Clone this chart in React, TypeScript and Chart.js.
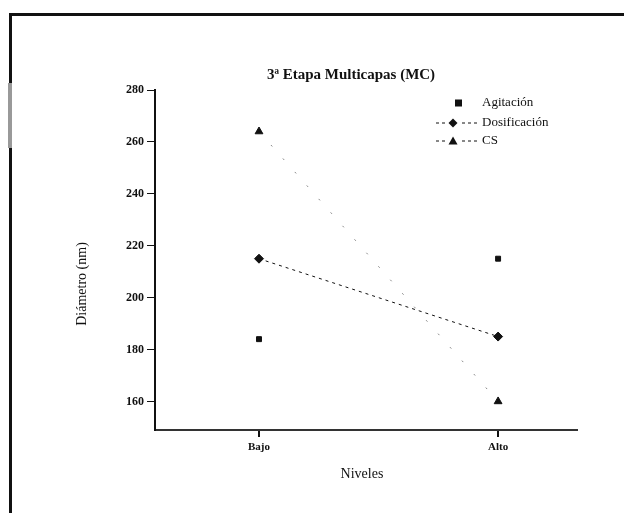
import React, { useEffect, useRef } from "react";
import { Chart, registerables } from "chart.js";

Chart.register(...registerables);

const categories = ["Bajo", "Alto"];
const agitacion = [184, 215];
const dosificacion = [215, 185];
const cs = [264, 160];
const yTickValues = [160, 180, 200, 220, 240, 260, 280];
const titleText = "3ª Etapa Multicapas (MC)";
const xTitle = "Niveles";
const yTitle = "Diámetro (nm)";
const legendLabels = ["Agitación", "Dosificación", "CS"];

const SERIF = "'Liberation Serif', 'Times New Roman', serif";

const toPoints = (arr: number[]) => arr.map((v, i) => ({ x: i, y: v }));

const decorPlugin = {
  id: "decor",
  afterDraw(chart: any) {
    const { ctx, chartArea } = chart;
    const L = chartArea.left;
    const T = chartArea.top;
    ctx.save();
    ctx.fillStyle = "#111";
    ctx.strokeStyle = "#111";
    // title
    ctx.font = `bold 15px ${SERIF}`;
    ctx.textAlign = "center";
    ctx.textBaseline = "middle";
    ctx.fillText(titleText, L + 196, T - 15);
    // x title
    ctx.font = `14px ${SERIF}`;
    ctx.fillText(xTitle, L + 207, chartArea.bottom + 44);
    // y title
    ctx.save();
    ctx.translate(L - 73, T + 194);
    ctx.rotate(-Math.PI / 2);
    ctx.fillText(yTitle, 0, 0);
    ctx.restore();
    // legend
    ctx.font = `13px ${SERIF}`;
    ctx.textAlign = "left";
    const tx = L + 327;
    const rows = [T + 13, T + 33, T + 51];
    // row 1: square
    ctx.fillRect(L + 300, rows[0] - 3.5, 7, 7);
    ctx.fillText(legendLabels[0], tx, rows[0]);
    // row 2: dashes + diamond
    ctx.lineWidth = 1;
    ctx.setLineDash([3, 3]);
    ctx.beginPath();
    ctx.moveTo(L + 281, rows[1]);
    ctx.lineTo(L + 290, rows[1]);
    ctx.moveTo(L + 307, rows[1]);
    ctx.lineTo(L + 323, rows[1]);
    ctx.stroke();
    ctx.beginPath();
    const dx = L + 298;
    ctx.moveTo(dx, rows[1] - 4.5);
    ctx.lineTo(dx + 4.5, rows[1]);
    ctx.lineTo(dx, rows[1] + 4.5);
    ctx.lineTo(dx - 4.5, rows[1]);
    ctx.closePath();
    ctx.fill();
    ctx.fillText(legendLabels[1], tx, rows[1]);
    // row 3: dashes + triangle
    ctx.beginPath();
    ctx.moveTo(L + 281, rows[2]);
    ctx.lineTo(L + 290, rows[2]);
    ctx.moveTo(L + 307, rows[2]);
    ctx.lineTo(L + 323, rows[2]);
    ctx.stroke();
    ctx.setLineDash([]);
    ctx.beginPath();
    ctx.moveTo(dx, rows[2] - 4.5);
    ctx.lineTo(dx + 4.5, rows[2] + 3.5);
    ctx.lineTo(dx - 4.5, rows[2] + 3.5);
    ctx.closePath();
    ctx.fill();
    ctx.fillText(legendLabels[2], tx, rows[2]);
    ctx.restore();
  },
};

export default function App() {
  const ref = useRef<HTMLCanvasElement | null>(null);
  useEffect(() => {
    if (!ref.current) return;
    const chart = new Chart(ref.current, {
      type: "scatter",
      data: {
        datasets: [
          {
            label: legendLabels[0],
            data: toPoints(agitacion),
            showLine: false,
            pointStyle: "rect",
            pointRadius: 3.5,
            backgroundColor: "#111",
            borderColor: "#111",
          },
          {
            label: legendLabels[1],
            data: toPoints(dosificacion),
            showLine: true,
            borderDash: [3, 4],
            borderWidth: 1,
            borderColor: "#111",
            pointStyle: "rectRot",
            pointRadius: 4.5,
            backgroundColor: "#111",
          },
          {
            label: legendLabels[2],
            data: toPoints(cs),
            showLine: true,
            borderDash: [2, 16],
            borderWidth: 1,
            borderColor: "#888",
            pointStyle: "triangle",
            pointRadius: 4.5,
            pointBorderColor: "#111",
            pointBackgroundColor: "#111",
            backgroundColor: "#111",
          },
        ],
      },
      options: {
        animation: false,
        responsive: false,
        maintainAspectRatio: false,
        layout: { padding: { left: 0, right: 47, top: 90, bottom: 0 } },
        plugins: {
          legend: { display: false },
          title: { display: false },
          tooltip: { enabled: false },
        },
        scales: {
          x: {
            type: "linear",
            min: -0.435,
            max: 1.33,
            afterBuildTicks: (s: any) => {
              s.ticks = categories.map((_, i) => ({ value: i }));
            },
            afterFit: (s: any) => {
              s.height = 83;
            },
            ticks: {
              callback: (v: any) => categories[v as number] ?? "",
              color: "#111",
              font: { family: SERIF, size: 11, weight: "bold" },
              padding: 4,
              maxRotation: 0,
            },
            grid: {
              drawOnChartArea: false,
              drawTicks: true,
              tickLength: 7,
              color: "#111",
              lineWidth: 2,
            },
            border: { display: true, color: "#333", width: 2 },
          },
          y: {
            min: 149,
            max: 280,
            afterBuildTicks: (s: any) => {
              s.ticks = yTickValues.map((v) => ({ value: v }));
            },
            afterFit: (s: any) => {
              s.width = 155;
            },
            ticks: {
              color: "#111",
              font: { family: SERIF, size: 12, weight: "bold" },
              padding: 3,
            },
            grid: {
              drawOnChartArea: false,
              drawTicks: true,
              tickLength: 8,
              color: "#111",
              lineWidth: 1,
            },
            border: { display: true, color: "#111", width: 2 },
          },
        },
      },
      plugins: [decorPlugin],
    } as any);
    return () => chart.destroy();
  }, []);
  return (
    <div>
      <div
        style={{
          position: "fixed",
          left: 9,
          top: 13,
          width: 640,
          height: 520,
          borderTop: "3px solid #111",
          borderLeft: "3px solid #111",
          boxSizing: "border-box",
        }}
      />
      <div
        style={{
          position: "fixed",
          left: 8,
          top: 83,
          width: 4,
          height: 65,
          background: "#999",
        }}
      />
      <canvas
        ref={ref}
        width={624}
        height={513}
        style={{ position: "fixed", left: 0, top: 0, width: 624, height: 513 }}
      />
    </div>
  );
}
